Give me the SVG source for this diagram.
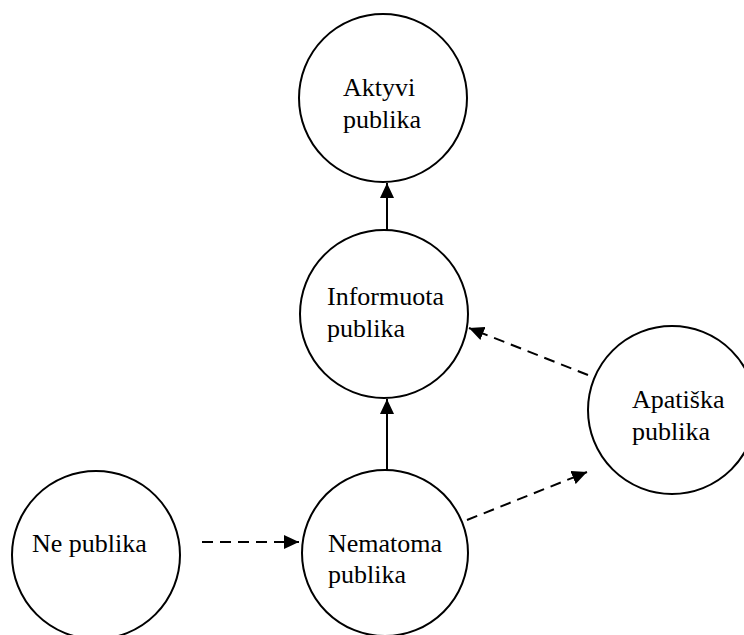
<svg xmlns="http://www.w3.org/2000/svg" width="744" height="635" viewBox="0 0 744 635">
<style>
.node{fill:#fff;stroke:#000;stroke-width:2}
.lbl{font-family:"Liberation Serif","Times New Roman",serif;font-size:26px;fill:#000}
.edge{stroke:#000;stroke-width:2;fill:none}
.dash{stroke-dasharray:11 7}
</style>
<defs>
<marker id="arr" markerUnits="userSpaceOnUse" markerWidth="16" markerHeight="14" refX="15" refY="7" orient="auto">
<path d="M0,0 L15,7 L0,14 z" fill="#000"/>
</marker>
</defs>
<rect width="744" height="635" fill="#fff"/>
<g id="connectors">
<line class="edge" x1="387" y1="230" x2="387" y2="183" marker-end="url(#arr)"/>
<line class="edge" x1="387" y1="470" x2="387" y2="399" marker-end="url(#arr)"/>
<line class="edge dash" x1="202" y1="542" x2="299" y2="542" marker-end="url(#arr)"/>
<line class="edge dash" x1="588" y1="375" x2="469" y2="328" marker-end="url(#arr)"/>
<line class="edge dash" x1="467" y1="520" x2="587" y2="472" marker-end="url(#arr)"/>
</g>
<g id="aktyvi">
<circle class="node" cx="383" cy="98" r="84"/>
<text class="lbl" x="343" y="96">Aktyvi</text>
<text class="lbl" x="343" y="128">publika</text>
</g>
<g id="informuota">
<circle class="node" cx="384" cy="314" r="84"/>
<text class="lbl" x="327" y="305">Informuota</text>
<text class="lbl" x="327" y="337">publika</text>
</g>
<g id="apatiska">
<circle class="node" cx="672" cy="410" r="84"/>
<text class="lbl" x="632" y="408">Apatiška</text>
<text class="lbl" x="632" y="440">publika</text>
</g>
<g id="ne">
<circle class="node" cx="96" cy="555" r="84"/>
<text class="lbl" x="32" y="552">Ne publika</text>
</g>
<g id="nematoma">
<circle class="node" cx="385" cy="553" r="83"/>
<text class="lbl" x="328" y="552">Nematoma</text>
<text class="lbl" x="328" y="583">publika</text>
</g>
</svg>
